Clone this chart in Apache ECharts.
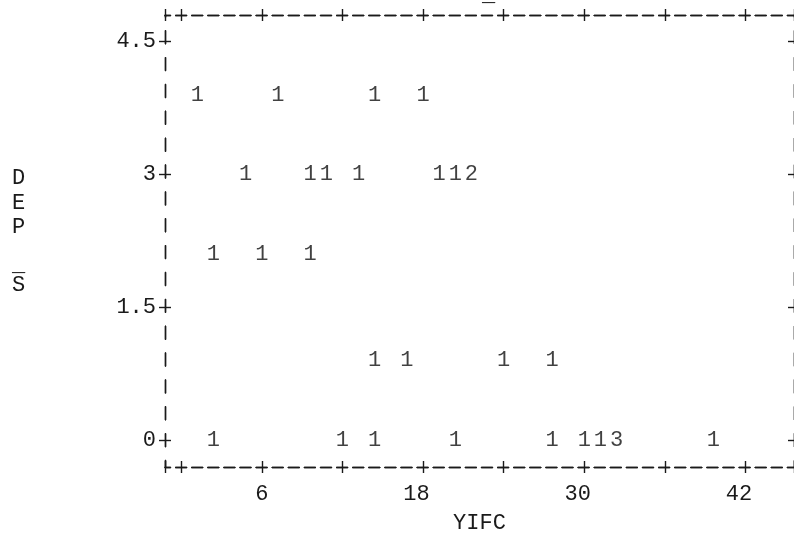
<!DOCTYPE html>
<html>
<head>
<meta charset="utf-8">
<script src="https://cdn.jsdelivr.net/npm/echarts@6/dist/echarts.min.js"></script>
<style>
  html, body { margin: 0; padding: 0; background: #fff; }
  #chart { width: 794px; height: 539px; }
</style>
</head>
<body>
<div id="chart"></div>
<script>
// ---- data ----
const xValues = [1.2, 7.2, 14.4, 18.0,
                 4.8, 9.6, 10.8, 13.2, 19.2, 20.4, 21.6,
                 2.4, 6.0, 9.6,
                 14.4, 16.8, 24.0, 27.6,
                 2.4, 12.0, 14.4, 20.4, 27.6, 30.0, 31.2, 32.4, 39.6];
const yValues = [3.9, 3.9, 3.9, 3.9,
                 3.0, 3.0, 3.0, 3.0, 3.0, 3.0, 3.0,
                 2.1, 2.1, 2.1,
                 0.9, 0.9, 0.9, 0.9,
                 0, 0, 0, 0, 0, 0, 0, 0, 0];
const counts  = [1, 1, 1, 1,
                 1, 1, 1, 1, 1, 1, 2,
                 1, 1, 1,
                 1, 1, 1, 1,
                 1, 1, 1, 1, 1, 1, 1, 3, 1];
const xTickValues = [-1.2, 0, 6, 12, 18, 24, 30, 36, 42, 45.6];
const xTickLabels = [6, 18, 30, 42];
const yTickValues = [0, 1.5, 3, 4.5];
const yTickLabels = [0, 1.5, 3, 4.5];
const xName = 'YIFC';
const yNameLetters = ['D', 'E', 'P', 'S'];

const FONT = 'Liberation Mono';
const INK = '#1a1a1a';
const X_MIN = -1.2, X_MAX = 45.6, Y_MIN = -0.3, Y_MAX = 4.8;

const points = xValues.map((x, i) => [x, yValues[i], counts[i]]);

const hLine = { show: true, onZero: false, lineStyle: { color: INK, width: 1.4, type: [11, 5.1], dashOffset: 5.5 } };
const vLine = { show: true, onZero: false, lineStyle: { color: INK, width: 1.4, type: [13, 13.86], dashOffset: 6.5 } };

function xAxisDef(position, inside, withLabels) {
  return {
    type: 'value', position: position, min: X_MIN, max: X_MAX,
    axisLine: hLine,
    axisTick: { show: true, inside: inside, length: 6, customValues: xTickValues,
                lineStyle: { color: INK, width: 1.4 } },
    axisLabel: withLabels ? {
      show: true, customValues: xTickLabels, margin: 16,
      fontFamily: FONT, fontSize: 22, color: INK,
      formatter: v => { const s = String(v); return s + ' '.repeat(s.length - 1); }
    } : { show: false },
    splitLine: { show: false },
    name: withLabels ? xName : '',
    nameLocation: 'middle', nameGap: 45,
    nameTextStyle: { fontFamily: FONT, fontSize: 22, color: INK }
  };
}
function yAxisDef(position, inside, withLabels) {
  return {
    type: 'value', position: position, min: Y_MIN, max: Y_MAX,
    axisLine: vLine,
    axisTick: { show: true, inside: inside, length: 6, customValues: yTickValues,
                lineStyle: { color: INK, width: 1.4 } },
    axisLabel: withLabels ? {
      show: true, customValues: yTickLabels, margin: 9,
      fontFamily: FONT, fontSize: 22, color: INK
    } : { show: false },
    splitLine: { show: false }
  };
}

const chart = echarts.init(document.getElementById('chart'), null, { renderer: 'canvas' });
const yLetterPos = [178, 203, 227, 285];
chart.setOption({
  animation: false,
  backgroundColor: '#fff',
  grid: { left: 165, right: 0, top: 15, bottom: 67, containLabel: false },
  xAxis: [
    xAxisDef('bottom', false, true),
    xAxisDef('bottom', true, false),
    xAxisDef('top', false, false),
    xAxisDef('top', true, false)
  ],
  yAxis: [
    yAxisDef('left', false, true),
    yAxisDef('left', true, false),
    yAxisDef('right', false, false),
    yAxisDef('right', true, false)
  ],
  series: [{
    type: 'scatter',
    xAxisIndex: 0, yAxisIndex: 0,
    data: points,
    symbolSize: 1,
    itemStyle: { color: 'rgba(0,0,0,0)' },
    silent: true,
    label: {
      show: true, position: 'inside',
      formatter: p => String(p.value[2]),
      fontFamily: FONT, fontSize: 22, color: '#111'
    }
  }],
  graphic: yLetterPos.map((y, i) => ({
    type: 'text', left: 12, top: y - 11,
    style: { text: yNameLetters[i], font: '22px "' + FONT + '"', fill: INK }
  })).concat([
    { type: 'text', left: 12, top: 254, style: { text: '_', font: '22px "' + FONT + '"', fill: INK } },
    { type: 'text', left: 482, top: -16, style: { text: '_', font: '22px "' + FONT + '"', fill: INK } }
  ])
});
</script>
</body>
</html>
